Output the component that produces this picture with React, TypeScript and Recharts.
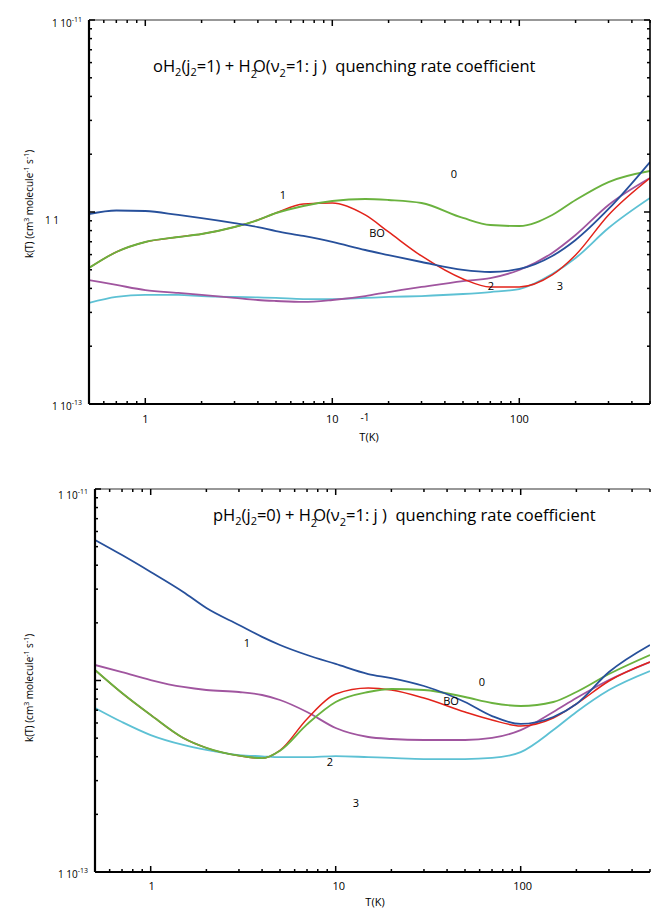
import React from 'react';
import { LineChart, Line, XAxis, YAxis } from 'recharts';

// Temperatures (K)
const T_K = [0.5, 0.7, 1, 1.5, 2, 3, 4, 5, 7, 10, 15, 20, 30, 50, 70, 100, 150, 200, 300, 500];

// Top panel: oH2(j2=1) + H2O(v2=1: j), k in units of 1e-12 cm3 molecule-1 s-1
const O_J0 = [0.511, 0.619, 0.698, 0.741, 0.768, 0.835, 0.908, 0.988, 1.075, 1.141, 1.169, 1.155, 1.114, 0.931, 0.855, 0.845, 0.965, 1.155, 1.433, 1.635];
const O_J1 = [0.976, 1.018, 1.012, 0.965, 0.930, 0.876, 0.835, 0.796, 0.750, 0.698, 0.634, 0.597, 0.549, 0.499, 0.487, 0.505, 0.590, 0.715, 1.037, 1.821];
const O_J2 = [0.442, 0.417, 0.392, 0.379, 0.370, 0.357, 0.348, 0.344, 0.340, 0.348, 0.365, 0.383, 0.407, 0.437, 0.453, 0.499, 0.612, 0.759, 1.088, 1.503];
const O_J3 = [0.336, 0.361, 0.370, 0.370, 0.365, 0.361, 0.359, 0.357, 0.352, 0.352, 0.357, 0.361, 0.365, 0.374, 0.383, 0.397, 0.475, 0.576, 0.825, 1.183];
const O_BO = [0.511, 0.619, 0.698, 0.741, 0.768, 0.835, 0.908, 0.988, 1.100, 1.114, 0.965, 0.787, 0.590, 0.448, 0.407, 0.407, 0.470, 0.597, 0.965, 1.503];

// Bottom panel: pH2(j2=0) + H2O(v2=1: j)
const P_J0 = [1.135, 0.860, 0.661, 0.501, 0.445, 0.405, 0.393, 0.430, 0.590, 0.772, 0.871, 0.903, 0.892, 0.820, 0.763, 0.736, 0.772, 0.871, 1.081, 1.359];
const P_J1 = [5.42, 4.52, 3.69, 2.90, 2.39, 1.95, 1.69, 1.533, 1.359, 1.22, 1.081, 1.030, 0.936, 0.772, 0.652, 0.593, 0.645, 0.754, 1.107, 1.533];
const P_J2 = [1.205, 1.107, 1.006, 0.925, 0.892, 0.871, 0.840, 0.791, 0.685, 0.565, 0.507, 0.495, 0.489, 0.489, 0.501, 0.551, 0.685, 0.810, 1.006, 1.249];
const P_J3 = [0.719, 0.607, 0.519, 0.461, 0.434, 0.408, 0.402, 0.398, 0.398, 0.403, 0.398, 0.394, 0.389, 0.389, 0.394, 0.423, 0.551, 0.685, 0.892, 1.121];
const P_BO = [1.135, 0.860, 0.661, 0.501, 0.445, 0.405, 0.393, 0.432, 0.630, 0.850, 0.914, 0.892, 0.810, 0.685, 0.622, 0.579, 0.637, 0.754, 0.994, 1.249];

// Axis ticks
const X_TICKS = [0.5, 0.6, 0.7, 0.8, 0.9, 1, 2, 3, 4, 5, 6, 7, 8, 9, 10, 20, 30, 40, 50, 60, 70, 80, 90, 100, 200, 300, 400, 500];
const X_MAJOR = [1, 10, 100];
const Y_TICKS = [0.1, 0.2, 0.3, 0.4, 0.5, 0.6, 0.7, 0.8, 0.9, 1, 2, 3, 4, 5, 6, 7, 8, 9, 10];

const COLORS = { j0: '#6ab23e', j1: '#27509b', j2: '#a0559f', j3: '#5dc1d4', bo: '#e2231a' };
const FONT = '"Open Sans", "DejaVu Sans", sans-serif';

const build = (j0: number[], j1: number[], j2: number[], j3: number[], bo: number[]) =>
  T_K.map((T, i) => ({ T, j0: j0[i], j1: j1[i], j2: j2[i], j3: j3[i], bo: bo[i] }));

const topData = build(O_J0, O_J1, O_J2, O_J3, O_BO);
const botData = build(P_J0, P_J1, P_J2, P_J3, P_BO);

const near = (a: number, b: number) => Math.abs(a - b) < 1e-9;

const makeXTick = (dir: 1 | -1, labelDy: number | null, labelDx: number[] = [0, 0, 0]) => (props: any) => {
  const { x, y, payload } = props;
  const v = payload.value;
  const mi = X_MAJOR.findIndex((m) => near(m, v));
  const major = mi >= 0;
  return (
    <g>
      <line x1={x} x2={x} y1={y} y2={y + dir * (major ? 6 : 3)} stroke="#000" strokeWidth={1.5} />
      {major && labelDy !== null ? (
        <text x={x + labelDx[mi]} y={y + labelDy} textAnchor="middle" fontSize={11} fontFamily={FONT} fill="#000">
          {String(v)}
        </text>
      ) : null}
    </g>
  );
};

const makeYTick = (dir: 1 | -1, labels: { [k: string]: { dy: number; exp: string } } | null) => (props: any) => {
  const { x, y, payload } = props;
  const v = payload.value;
  const major = near(v, 0.1) || near(v, 1) || near(v, 10);
  const lab = labels ? (near(v, 10) ? labels.top : near(v, 0.1) ? labels.bot : null) : null;
  return (
    <g>
      <line x1={x} x2={x + dir * (major ? 6 : 3)} y1={y} y2={y} stroke="#000" strokeWidth={1.5} />
      {lab ? (
        <text x={x - 7} y={y + lab.dy} textAnchor="end" fontSize={10} fontFamily={FONT} fill="#000">
          1 10<tspan dy={-5} fontSize={7}>{lab.exp}</tspan>
        </text>
      ) : null}
    </g>
  );
};

type PanelProps = {
  data: any[];
  top: number;
  height: number;
  margin: { top: number; right: number; bottom: number; left: number };
  yLabels: { [k: string]: { dy: number; exp: string } };
  xLabelDy: number;
  xLabelDx: number[];
  rightAxis: boolean;
};

const Panel = ({ data, top, height, margin, yLabels, xLabelDy, xLabelDx, rightAxis }: PanelProps) => (
  <div style={{ position: 'absolute', left: 0, top, width: 652, height }}>
    <LineChart width={652} height={height} data={data} margin={margin}>
      <XAxis
        xAxisId="b"
        dataKey="T"
        type="number"
        scale="log"
        domain={[0.5, 500]}
        allowDataOverflow
        ticks={X_TICKS}
        interval={0}
        height={1}
        tickSize={0}
        tickMargin={0}
        tickLine={false}
        axisLine={{ stroke: '#000', strokeWidth: 2.2 }}
        tick={makeXTick(-1, xLabelDy, xLabelDx)}
      />
      <XAxis
        xAxisId="t"
        orientation="top"
        dataKey="T"
        type="number"
        scale="log"
        domain={[0.5, 500]}
        allowDataOverflow
        ticks={X_TICKS}
        interval={0}
        height={1}
        tickSize={0}
        tickMargin={0}
        tickLine={false}
        axisLine={{ stroke: '#333', strokeWidth: 1.2 }}
        tick={makeXTick(1, null)}
      />
      <YAxis
        yAxisId="l"
        type="number"
        scale="log"
        domain={[0.1, 10]}
        allowDataOverflow
        ticks={Y_TICKS}
        interval={0}
        width={1}
        tickSize={0}
        tickMargin={0}
        tickLine={false}
        axisLine={{ stroke: '#000', strokeWidth: 2.2 }}
        tick={makeYTick(1, yLabels)}
      />
      {rightAxis ? (
        <YAxis
          yAxisId="r"
          orientation="right"
          type="number"
          scale="log"
          domain={[0.1, 10]}
          allowDataOverflow
          ticks={Y_TICKS}
          interval={0}
          width={1}
          tickSize={0}
          tickMargin={0}
          tickLine={false}
          axisLine={{ stroke: '#000', strokeWidth: 1.6 }}
          tick={makeYTick(-1, null)}
        />
      ) : null}
      <Line xAxisId="b" yAxisId="l" dataKey="j3" type="monotone" stroke={COLORS.j3} strokeWidth={1.8} dot={false} isAnimationActive={false} />
      <Line xAxisId="b" yAxisId="l" dataKey="j2" type="monotone" stroke={COLORS.j2} strokeWidth={1.8} dot={false} isAnimationActive={false} />
      <Line xAxisId="b" yAxisId="l" dataKey="bo" type="monotone" stroke={COLORS.bo} strokeWidth={1.5} dot={false} isAnimationActive={false} />
      <Line xAxisId="b" yAxisId="l" dataKey="j0" type="monotone" stroke={COLORS.j0} strokeWidth={1.9} dot={false} isAnimationActive={false} />
      <Line xAxisId="b" yAxisId="l" dataKey="j1" type="monotone" stroke={COLORS.j1} strokeWidth={1.8} dot={false} isAnimationActive={false} />
    </LineChart>
  </div>
);

const Sub = ({ children, dx = 0 }: { children: React.ReactNode; dx?: number }) => (
  <tspan dy={4} dx={dx} fontSize={11}>{children}</tspan>
);

const Title = ({ x, y, prefix, j }: { x: number; y: number; prefix: string; j: string }) => (
  <text x={x} y={y} fontSize={16.5} fontFamily={FONT} fill="#000" style={{ whiteSpace: 'pre' }}>
    {prefix}H<Sub>2</Sub>
    <tspan dy={-4}>(j</tspan>
    <Sub>2</Sub>
    <tspan dy={-4}>{'=' + j + ') + H'}</tspan>
    <tspan dy={6} fontSize={11}>2</tspan>
    <tspan dy={-6} dx={-4}>O(ν</tspan>
    <tspan dy={5} fontSize={11}>2</tspan>
    <tspan dy={-5}>{'=1: j )  quenching rate coefficient'}</tspan>
  </text>
);

const YLabel = ({ x, y }: { x: number; y: number }) => (
  <text transform={`translate(${x},${y}) rotate(-90)`} textAnchor="middle" fontSize={10} fontFamily={FONT} fill="#000">
    k(T) (cm<tspan dy={-4} fontSize={7}>3</tspan>
    <tspan dy={4}> molecule</tspan>
    <tspan dy={-4} fontSize={7}>-1</tspan>
    <tspan dy={4}> s</tspan>
    <tspan dy={-4} fontSize={7}>-1</tspan>
    <tspan dy={4}>)</tspan>
  </text>
);

const CurveLabel = ({ x, y, t }: { x: number; y: number; t: string }) => (
  <text x={x} y={y} textAnchor="middle" fontSize={11} fontFamily={FONT} fill="#000">{t}</text>
);

export default function App() {
  return (
    <div style={{ position: 'absolute', left: 0, top: 0, width: 652, height: 910, background: '#fff', overflow: 'hidden' }}>
      <Panel
        data={topData}
        top={0}
        height={440}
        margin={{ top: 19, right: 1, bottom: 35, left: 88 }}
        yLabels={{ top: { dy: 7, exp: '-11' }, bot: { dy: 6, exp: '-13' } }}
        xLabelDy={19}
        xLabelDx={[0, 0, 0]}
        rightAxis={true}
      />
      <Panel
        data={botData}
        top={460}
        height={450}
        margin={{ top: 28, right: 2, bottom: 37, left: 94 }}
        yLabels={{ top: { dy: 10, exp: '-11' }, bot: { dy: 6, exp: '-13' } }}
        xLabelDy={18}
        xLabelDx={[1, 3, 2]}
        rightAxis={false}
      />
      <svg width={652} height={910} style={{ position: 'absolute', left: 0, top: 0, pointerEvents: 'none' }}>
        <Title x={153} y={72} prefix="o" j="1" />
        <Title x={213} y={521} prefix="p" j="0" />
        <YLabel x={33} y={204} />
        <YLabel x={33} y={688} />
        <text x={52} y={224} textAnchor="middle" fontSize={10} fontFamily={FONT} fill="#000">1 1</text>
        <text x={365} y={421} textAnchor="middle" fontSize={10} fontFamily={FONT} fill="#000">-1</text>
        <text x={369} y={441} textAnchor="middle" fontSize={11} fontFamily={FONT} fill="#000">T(K)</text>
        <text x={375} y={906} textAnchor="middle" fontSize={11} fontFamily={FONT} fill="#000">T(K)</text>
        <CurveLabel x={454} y={178} t="0" />
        <CurveLabel x={377} y={237} t="BO" />
        <CurveLabel x={283} y={199} t="1" />
        <CurveLabel x={491} y={290} t="2" />
        <CurveLabel x={560} y={290} t="3" />
        <CurveLabel x={247} y={647} t="1" />
        <CurveLabel x={482} y={686} t="0" />
        <CurveLabel x={451} y={705} t="BO" />
        <CurveLabel x={330} y={766} t="2" />
        <CurveLabel x={356} y={807} t="3" />
      </svg>
    </div>
  );
}
